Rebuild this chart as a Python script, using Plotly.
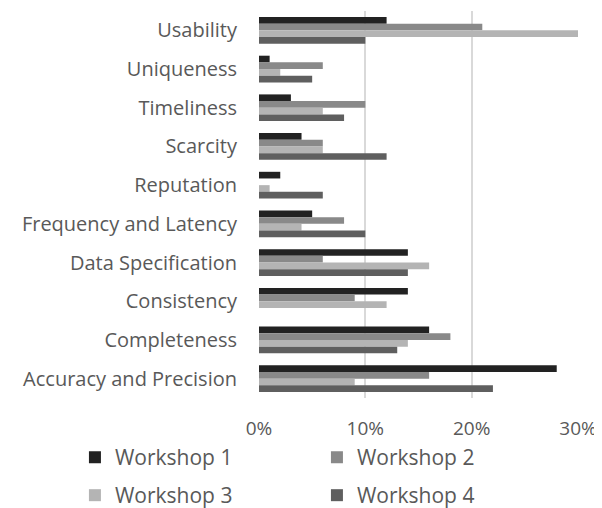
import plotly.graph_objects as go

categories = ["Usability", "Uniqueness", "Timeliness", "Scarcity", "Reputation",
              "Frequency and Latency", "Data Specification", "Consistency",
              "Completeness", "Accuracy and Precision"]
workshop1 = [0.12, 0.01, 0.03, 0.04, 0.02, 0.05, 0.14, 0.14, 0.16, 0.28]
workshop2 = [0.21, 0.06, 0.10, 0.06, 0.00, 0.08, 0.06, 0.09, 0.18, 0.16]
workshop3 = [0.30, 0.02, 0.06, 0.06, 0.01, 0.04, 0.16, 0.12, 0.14, 0.09]
workshop4 = [0.10, 0.05, 0.08, 0.12, 0.06, 0.10, 0.14, 0.00, 0.13, 0.22]
series_names = ["Workshop 1", "Workshop 2", "Workshop 3", "Workshop 4"]
colors = ["#222222", "#898989", "#b4b4b4", "#5f5f5f"]
x_ticks = [0, 0.1, 0.2, 0.3]
x_tick_labels = ["0%", "10%", "20%", "30%"]

FONT = "Open Sans"
TXT = "#595959"

fig = go.Figure()
for i, (name, vals) in enumerate(zip(series_names, [workshop1, workshop2, workshop3, workshop4])):
    fig.add_trace(go.Bar(
        y=categories, x=vals, name=name, orientation="h",
        marker=dict(color=colors[i], line=dict(width=0)),
        legend="legend" if i < 2 else "legend2",
    ))

# page body has an 8px margin, so the figure is 8px smaller and shifted
fig.update_layout(
    width=594, height=500,
    margin=dict(l=251, r=24, t=3, b=110, autoexpand=False),
    barmode="group", bargap=0.31, bargroupgap=0,
    plot_bgcolor="white", paper_bgcolor="white",
    font=dict(family=FONT, size=19, color=TXT),
    xaxis=dict(range=[0, 0.3], tickvals=x_ticks, ticktext=x_tick_labels,
               showgrid=True, gridcolor="#d9d9d9", gridwidth=1.5,
               zeroline=False, showline=False, ticks="", automargin=False,
               ticklabelstandoff=17, tickfont=dict(size=19, color=TXT)),
    yaxis=dict(autorange="reversed", showgrid=False, zeroline=False,
               showline=False, ticks="", ticklabelstandoff=21, automargin=False,
               tickfont=dict(size=20, color=TXT)),
    legend=dict(orientation="h", x=-0.577, xanchor="left", y=-0.154, yanchor="middle",
                entrywidth=197, entrywidthmode="pixels",
                font=dict(size=21, color=TXT), itemwidth=30, traceorder="normal"),
    legend2=dict(orientation="h", x=-0.577, xanchor="left", y=-0.252, yanchor="middle",
                 entrywidth=197, entrywidthmode="pixels",
                 font=dict(size=21, color=TXT), itemwidth=30, traceorder="normal"),
    showlegend=True,
)

fig.write_html("out.html")
